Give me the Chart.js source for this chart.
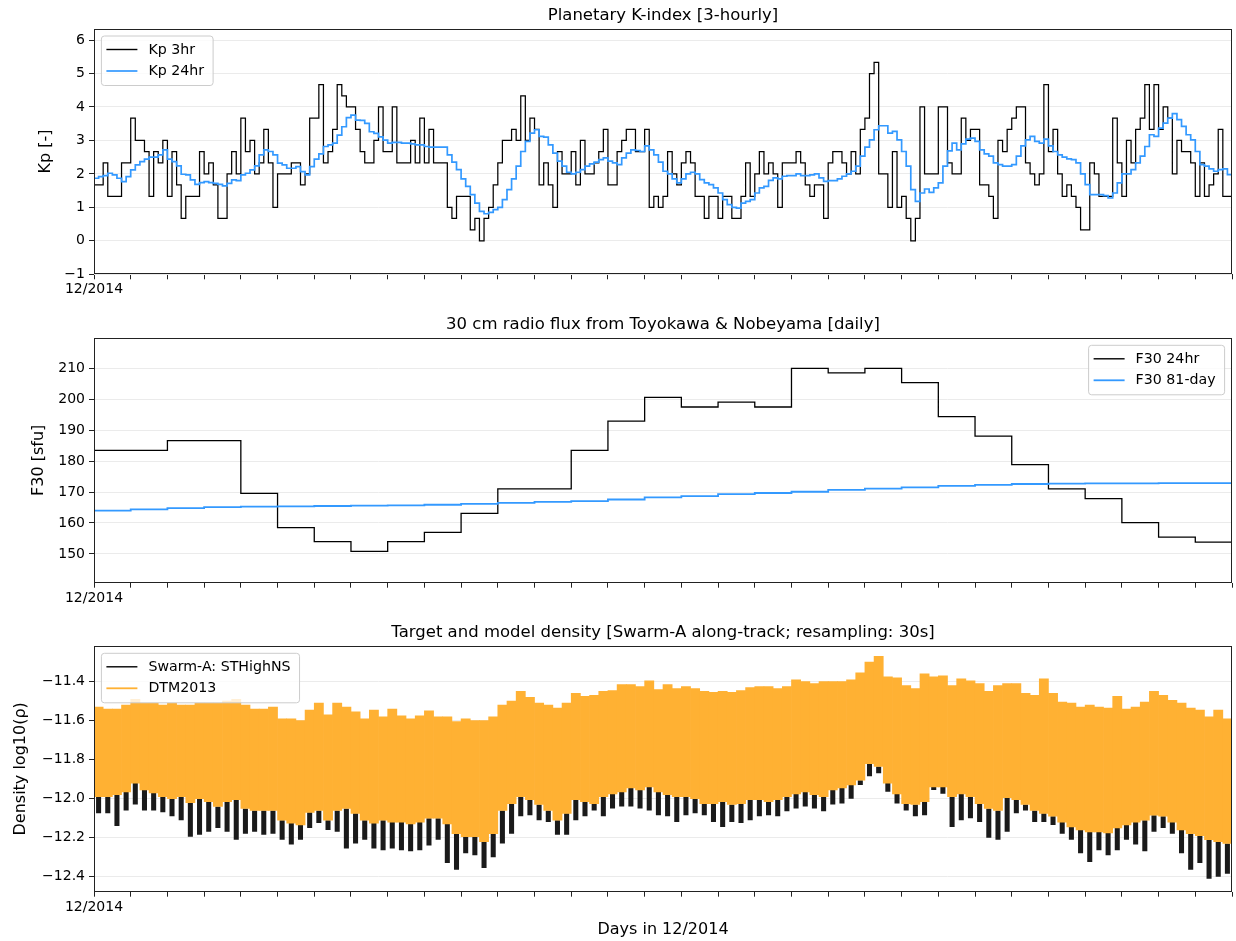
<!DOCTYPE html>
<html>
<head>
<meta charset="utf-8">
<title>Kp, F30 and thermosphere density – December 2014</title>
<script src="https://cdn.jsdelivr.net/npm/chart.js@4.4.1/dist/chart.umd.min.js"></script>
<style>
  html, body { margin: 0; padding: 0; background: #ffffff; }
  #page { position: relative; width: 1236px; height: 941px; overflow: hidden; }
  .panel { position: absolute; left: 0; width: 1236px; }
</style>
</head>
<body>
<div id="page">
  <div class="panel" style="top:0px;height:300px"><canvas id="kpChart"></canvas></div>
  <div class="panel" style="top:310px;height:300px"><canvas id="f30Chart"></canvas></div>
  <div class="panel" style="top:618px;height:323px"><canvas id="densChart"></canvas></div>
</div>
<script>
// ---------------------------------------------------------------------------
// Data: December 2014 (x axis in days since 2014-12-01 00:00 UT)
// ---------------------------------------------------------------------------
const monthLabel = '12/2014';
const dayTicks = [0,1,2,3,4,5,6,7,8,9,10,11,12,13,14,15,16,17,18,19,20,21,22,23,24,25,26,27,28,29,30,31];

// Kp, one value per 3-hour interval (8 per day)
const kp3hr = [
  1.67,1.67,2.33,1.33,1.33,1.33,2.33,2.33,
  3.67,3.00,3.00,2.67,1.33,2.67,2.33,3.00,
  1.33,2.67,1.67,0.67,1.33,1.33,1.33,2.67,
  2.00,2.33,1.67,0.67,0.67,2.00,2.67,2.00,
  3.67,2.67,3.00,2.00,2.33,3.33,2.33,1.00,
  2.00,2.00,2.00,2.33,2.33,1.67,2.00,3.67,
  3.67,4.67,2.33,2.67,3.33,4.67,4.33,4.00,
  4.00,3.33,2.67,2.33,2.33,3.00,4.00,2.67,
  2.67,4.00,2.33,2.33,2.33,3.00,2.33,3.67,
  2.33,3.33,2.33,2.33,2.33,1.00,0.67,1.33,
  1.33,1.33,0.33,0.67,0.00,0.67,1.00,1.67,
  2.33,3.00,3.00,3.33,3.00,4.33,3.00,3.67,
  3.33,1.67,2.33,1.67,1.00,2.67,2.00,2.00,
  2.67,1.67,3.00,2.00,2.00,2.33,2.67,3.33,
  1.67,1.67,2.67,3.00,3.33,3.33,2.67,2.67,
  3.33,1.00,1.33,1.00,1.33,2.67,2.00,1.67,
  2.33,2.67,2.33,1.33,1.33,0.67,1.33,1.33,
  0.67,1.33,1.33,0.67,0.67,1.33,2.33,1.33,
  2.00,2.67,2.00,2.33,2.00,1.00,2.33,2.33,
  2.33,2.67,2.33,1.67,1.33,1.67,1.67,0.67,
  2.33,2.67,2.67,2.33,2.00,2.67,2.00,3.33,
  3.67,5.00,5.33,2.00,2.00,1.00,2.67,1.00,
  1.33,0.67,0.00,0.67,4.00,2.00,2.00,2.00,
  4.00,4.00,2.33,2.00,2.00,3.67,3.00,3.33,
  3.33,1.67,1.67,1.33,0.67,3.00,2.67,3.33,
  3.67,4.00,4.00,2.33,2.00,1.67,2.00,4.67,
  2.67,3.33,2.00,1.33,1.67,1.33,1.00,0.33,
  0.33,2.33,2.00,1.33,1.33,1.33,3.67,2.33,
  1.33,3.00,2.33,3.33,3.67,4.67,3.33,4.67,
  3.33,4.00,3.67,2.00,3.00,2.67,2.67,2.33,
  1.33,2.33,1.33,1.67,2.00,3.33,1.33,1.33
];

// Kp averaged over 24 hours, on the same 3-hour steps
const kp24hr = [
  1.87,1.92,1.95,2.02,1.97,1.87,1.77,1.92,
  2.12,2.27,2.37,2.44,2.50,2.50,2.57,2.72,
  2.44,2.37,2.24,1.99,1.97,1.82,1.69,1.74,
  1.77,1.74,1.72,1.69,1.64,1.72,1.82,1.80,
  1.97,2.02,2.12,2.24,2.57,2.72,2.67,2.57,
  2.32,2.27,2.17,2.17,2.22,2.07,1.97,2.22,
  2.44,2.60,2.82,2.87,2.92,3.16,3.41,3.68,
  3.76,3.61,3.60,3.51,3.26,3.21,3.11,3.01,
  2.92,2.94,2.94,2.92,2.92,2.90,2.87,2.87,
  2.82,2.80,2.80,2.80,2.80,2.57,2.35,2.13,
  1.85,1.63,1.38,1.13,0.88,0.81,0.85,0.93,
  1.00,1.23,1.53,1.85,2.23,2.67,2.97,3.22,
  3.32,3.12,3.10,2.87,2.62,2.38,2.23,2.05,
  2.00,2.05,2.13,2.23,2.30,2.35,2.43,2.48,
  2.38,2.33,2.28,2.48,2.62,2.72,2.70,2.67,
  2.84,2.72,2.57,2.35,2.08,2.00,1.85,1.73,
  1.85,2.00,2.05,2.00,1.83,1.73,1.68,1.58,
  1.43,1.23,1.08,1.00,0.98,1.13,1.18,1.23,
  1.43,1.58,1.63,1.81,1.88,1.85,1.93,1.95,
  1.95,2.00,1.95,1.95,1.97,2.00,1.88,1.78,
  1.80,1.80,1.85,1.93,2.00,2.08,2.23,2.53,
  2.80,3.02,3.32,3.44,3.44,3.22,3.27,3.02,
  2.67,2.23,1.53,1.18,1.43,1.55,1.45,1.58,
  1.73,2.23,2.69,2.92,2.72,2.90,3.04,3.07,
  2.97,2.72,2.60,2.53,2.33,2.28,2.23,2.23,
  2.28,2.53,2.84,3.02,3.12,2.97,2.92,3.04,
  2.84,2.67,2.57,2.50,2.45,2.43,2.33,2.00,
  1.68,1.38,1.38,1.38,1.35,1.28,1.43,1.73,
  2.00,2.00,2.13,2.33,2.53,2.82,3.17,3.12,
  3.37,3.52,3.67,3.80,3.62,3.42,3.17,3.02,
  2.67,2.28,2.23,2.15,2.08,2.13,2.15,1.98
];

// 30 cm solar radio flux (sfu), one value per day
const f30Daily = [
  183.5,183.5,186.6,186.6,169.6,158.5,154.0,150.8,154.0,157.0,
  163.1,171.0,171.0,183.5,192.9,200.6,197.5,199.1,197.5,210.0,
  208.5,210.0,205.4,194.4,188.1,178.9,171.0,167.9,160.1,155.4,
  153.8
];
const f30Avg81 = [
  164.0,164.4,164.8,165.1,165.3,165.4,165.5,165.6,165.7,165.9,
  166.2,166.5,166.8,167.1,167.6,168.3,168.7,169.3,169.7,170.1,
  170.7,171.1,171.5,172.0,172.3,172.6,172.7,172.8,172.8,172.9,
  172.9
];

// log10 density, range per 6-hour window (4 windows per day)
const dtmMax = [
  -11.53,-11.54,-11.54,-11.52,  -11.49,-11.51,-11.51,-11.52,  -11.51,-11.52,-11.52,-11.51,
  -11.51,-11.51,-11.50,-11.49,  -11.52,-11.54,-11.54,-11.53,  -11.59,-11.59,-11.60,-11.545,
  -11.51,-11.57,-11.51,-11.53,  -11.555,-11.59,-11.545,-11.58, -11.54,-11.575,-11.59,-11.575,
  -11.55,-11.58,-11.58,-11.605, -11.59,-11.60,-11.60,-11.58,  -11.52,-11.50,-11.45,-11.48,
  -11.51,-11.52,-11.535,-11.51, -11.46,-11.475,-11.47,-11.45, -11.445,-11.415,-11.415,-11.425,
  -11.395,-11.44,-11.415,-11.435, -11.425,-11.435,-11.45,-11.455, -11.45,-11.455,-11.445,-11.43,
  -11.425,-11.425,-11.435,-11.425, -11.39,-11.40,-11.41,-11.40, -11.40,-11.40,-11.39,-11.355,
  -11.30,-11.27,-11.375,-11.38, -11.42,-11.435,-11.36,-11.375, -11.37,-11.42,-11.385,-11.395,
  -11.41,-11.45,-11.42,-11.41,  -11.41,-11.46,-11.47,-11.385, -11.46,-11.505,-11.51,-11.53,
  -11.52,-11.53,-11.535,-11.475, -11.54,-11.53,-11.505,-11.45, -11.47,-11.495,-11.51,-11.535,
  -11.545,-11.58,-11.545,-11.59
];
const dtmMin = [
  -11.99,-11.99,-11.98,-11.965, -11.92,-11.955,-11.97,-11.99, -12.00,-11.99,-12.02,-12.00,
  -12.015,-12.04,-12.015,-12.005, -12.05,-12.06,-12.06,-12.06, -12.11,-12.125,-12.135,-12.07,
  -12.06,-12.11,-12.06,-12.05,  -12.075,-12.11,-12.125,-12.11, -12.12,-12.12,-12.13,-12.12,
  -12.10,-12.10,-12.13,-12.18,  -12.195,-12.195,-12.22,-12.18, -12.06,-12.025,-11.99,-12.005,
  -12.03,-12.06,-12.11,-12.075, -12.005,-12.015,-12.025,-11.99, -11.975,-11.965,-11.945,-11.955,
  -11.94,-11.965,-11.98,-11.99, -11.99,-12.00,-12.025,-12.025, -12.015,-12.03,-12.025,-12.005,
  -12.005,-12.015,-12.005,-11.99, -11.975,-11.965,-11.98,-11.99, -11.955,-11.945,-11.93,-11.905,
  -11.82,-11.835,-11.92,-11.975, -12.025,-12.03,-12.015,-11.94, -11.94,-11.99,-11.975,-11.99,
  -12.025,-12.05,-12.06,-11.995, -12.005,-12.03,-12.06,-12.075, -12.09,-12.12,-12.145,-12.16,
  -12.17,-12.17,-12.175,-12.15, -12.135,-12.12,-12.11,-12.085, -12.09,-12.12,-12.16,-12.18,
  -12.19,-12.21,-12.22,-12.23
];
const swarmMin = [
  -12.075,-12.075,-12.14,-12.06, -12.03,-12.06,-12.06,-12.07, -12.09,-12.11,-12.195,-12.185,
  -12.17,-12.15,-12.17,-12.21,  -12.18,-12.17,-12.185,-12.18, -12.21,-12.235,-12.21,-12.15,
  -12.125,-12.16,-12.17,-12.255, -12.23,-12.21,-12.255,-12.265, -12.255,-12.265,-12.27,-12.265,
  -12.24,-12.21,-12.33,-12.365, -12.28,-12.29,-12.355,-12.30, -12.23,-12.18,-12.09,-12.085,
  -12.11,-12.12,-12.185,-12.185, -12.11,-12.09,-12.06,-12.09, -12.05,-12.04,-12.04,-12.05,
  -12.06,-12.085,-12.09,-12.12, -12.085,-12.075,-12.085,-12.12, -12.145,-12.12,-12.125,-12.11,
  -12.09,-12.085,-12.09,-12.065, -12.05,-12.04,-12.05,-12.065, -12.03,-12.025,-12.00,-11.93,
  -11.885,-11.87,-11.965,-12.025, -12.06,-12.09,-12.085,-11.955, -11.975,-12.145,-12.11,-12.10,
  -12.12,-12.20,-12.21,-12.17,  -12.075,-12.06,-12.12,-12.12, -12.135,-12.18,-12.21,-12.28,
  -12.325,-12.265,-12.29,-12.265, -12.21,-12.235,-12.27,-12.17, -12.15,-12.18,-12.28,-12.365,
  -12.33,-12.41,-12.40,-12.385
];

const kpTicks = [-1, 0, 1, 2, 3, 4, 5, 6];
const f30Ticks = [150, 160, 170, 180, 190, 200, 210];
const densTicks = [-12.4, -12.2, -12.0, -11.8, -11.6, -11.4];

// ---------------------------------------------------------------------------
// Styling
// ---------------------------------------------------------------------------
const FONT = '"DejaVu Sans", "Liberation Sans", Arial, sans-serif';
const BLUE = '#3399ff';
const ORANGE = '#ffb133';
const INK = '#000000';
const GRID = '#ebebeb';
const SPINE = '#222222';

Chart.defaults.font.family = FONT;
Chart.defaults.color = INK;

const KP_STEP = 1 / 8;     // 3 hours in days
const DAY_STEP = 1;        // daily values
const WINDOW = 1 / 4;      // 6-hour density windows

// Step-post samples: each value holds until the next one starts
function toSteps(values, dt) {
  const pts = values.map((v, i) => ({ x: i * dt, y: v }));
  pts.push({ x: values.length * dt, y: values[values.length - 1] });
  return pts;
}

function minusSign(text) { return text.replace('-', '\u2212'); }

// Axes box, panel title and framed legend drawn on top of the plot
const panelDecor = {
  id: 'panelDecor',
  afterDraw(chart, args, opts) {
    const { ctx, chartArea: a } = chart;
    ctx.save();
    const L = Math.round(a.left) + 0.5, T = Math.round(a.top) + 0.5;
    const R = Math.round(a.right) - 0.5, B = Math.round(a.bottom) - 0.5;
    ctx.strokeStyle = SPINE;
    ctx.lineWidth = 1;
    ctx.strokeRect(L, T, R - L, B - T);

    ctx.fillStyle = INK;
    ctx.font = '16.5px ' + FONT;
    ctx.textAlign = 'center';
    ctx.textBaseline = 'alphabetic';
    ctx.fillText(opts.title, (a.left + a.right) / 2, a.top - 9);

    const items = chart.data.datasets.map(d => ({
      label: d.label, color: d.legendColor || d.borderColor, lw: d.legendWidth || d.borderWidth || 1.5
    }));
    ctx.font = '14.2px ' + FONT;
    const tw = Math.max(...items.map(it => ctx.measureText(it.label).width));
    const w = 47 + tw + 9;
    const h = 13.5 + 21.5 * (items.length - 1) + 14.5;
    const x0 = opts.legendSide === 'right' ? a.right - 7.4 - w : a.left + 7.4;
    const y0 = a.top + 7.3;
    const r = 3;
    ctx.beginPath();
    ctx.moveTo(x0 + r, y0);
    ctx.lineTo(x0 + w - r, y0);
    ctx.arcTo(x0 + w, y0, x0 + w, y0 + r, r);
    ctx.lineTo(x0 + w, y0 + h - r);
    ctx.arcTo(x0 + w, y0 + h, x0 + w - r, y0 + h, r);
    ctx.lineTo(x0 + r, y0 + h);
    ctx.arcTo(x0, y0 + h, x0, y0 + h - r, r);
    ctx.lineTo(x0, y0 + r);
    ctx.arcTo(x0, y0, x0 + r, y0, r);
    ctx.closePath();
    ctx.fillStyle = 'rgba(255,255,255,0.8)';
    ctx.fill();
    ctx.strokeStyle = '#cccccc';
    ctx.lineWidth = 1;
    ctx.stroke();

    items.forEach((it, k) => {
      const y = y0 + 13.5 + 21.5 * k;
      ctx.beginPath();
      ctx.strokeStyle = it.color;
      ctx.lineWidth = it.lw;
      ctx.moveTo(x0 + 5, y);
      ctx.lineTo(x0 + 36, y);
      ctx.stroke();
      ctx.fillStyle = INK;
      ctx.textAlign = 'left';
      ctx.textBaseline = 'middle';
      ctx.fillText(it.label, x0 + 47, y + 0.5);
    });
    ctx.restore();
  }
};

function xAxis(height, title) {
  return {
    type: 'linear', min: 0, max: 31, offset: false,
    afterBuildTicks: s => { s.ticks = dayTicks.map(v => ({ value: v })); },
    ticks: {
      autoSkip: false, maxRotation: 0, minRotation: 0, padding: 2,
      font: { size: 14 }, color: INK,
      callback: v => (v === 0 ? monthLabel : '')
    },
    grid: { offset: false, drawOnChartArea: false, drawTicks: true, tickLength: 5, tickColor: SPINE },
    border: { display: false },
    title: title ? { display: true, text: title, font: { size: 16 }, color: INK, padding: { top: 0, bottom: 2 } } : { display: false },
    afterFit: s => { s.height = height; }
  };
}

function yAxis(min, max, ticks, fmt, label, labelPad) {
  return {
    type: 'linear', min, max,
    afterBuildTicks: s => { s.ticks = ticks.map(v => ({ value: v })); },
    ticks: { font: { size: 14 }, color: INK, padding: 4, callback: v => fmt(v) },
    grid: { color: GRID, lineWidth: 1, drawTicks: true, tickLength: 5, tickColor: SPINE },
    border: { display: false },
    title: { display: true, text: label, font: { size: 16 }, color: INK, padding: { top: labelPad, bottom: 0 } },
    afterFit: s => { s.width = 94; }
  };
}

function baseOptions(padTop, scales, decor) {
  return {
    responsive: true, maintainAspectRatio: false, animation: false, events: [],
    layout: { padding: { top: padTop, left: 0, right: 4, bottom: 0 } },
    scales,
    plugins: { legend: { display: false }, tooltip: { enabled: false }, panelDecor: decor }
  };
}

// ---------------------------------------------------------------------------
// Panel 1: Kp
// ---------------------------------------------------------------------------
new Chart(document.getElementById('kpChart'), {
  type: 'line',
  data: {
    datasets: [
      { label: 'Kp 3hr', data: toSteps(kp3hr, KP_STEP), borderColor: INK, borderWidth: 1.25,
        stepped: 'before', pointRadius: 0, fill: false, order: 2, legendWidth: 1.4 },
      { label: 'Kp 24hr', data: toSteps(kp24hr, KP_STEP), borderColor: BLUE, borderWidth: 1.7,
        stepped: 'before', pointRadius: 0, fill: false, order: 1 }
    ]
  },
  options: baseOptions(28.7, {
    x: xAxis(25.7),
    y: yAxis(-1, 6.34, kpTicks, v => minusSign(String(v)), 'Kp [-]', 36)
  }, { title: 'Planetary K-index [3-hourly]', legendSide: 'left' }),
  plugins: [panelDecor]
});

// ---------------------------------------------------------------------------
// Panel 2: F30 radio flux
// ---------------------------------------------------------------------------
new Chart(document.getElementById('f30Chart'), {
  type: 'line',
  data: {
    datasets: [
      { label: 'F30 24hr', data: toSteps(f30Daily, DAY_STEP), borderColor: INK, borderWidth: 1.3,
        stepped: 'before', pointRadius: 0, fill: false, order: 2, legendWidth: 1.4 },
      { label: 'F30 81-day', data: toSteps(f30Avg81, DAY_STEP), borderColor: BLUE, borderWidth: 1.8,
        stepped: 'before', pointRadius: 0, fill: false, order: 1 }
    ]
  },
  options: baseOptions(28, {
    x: xAxis(27.3),
    y: yAxis(140.7, 219.8, f30Ticks, v => String(v), 'F30 [sfu]', 29)
  }, { title: '30 cm radio flux from Toyokawa & Nobeyama [daily]', legendSide: 'right' }),
  plugins: [panelDecor]
});

// ---------------------------------------------------------------------------
// Panel 3: along-track density, observed and modelled
// ---------------------------------------------------------------------------
const windowCentre = i => (i + 0.5) * WINDOW;
new Chart(document.getElementById('densChart'), {
  type: 'bar',
  data: {
    datasets: [
      { label: 'Swarm-A: STHighNS',
        data: swarmMin.map((lo, i) => ({ x: windowCentre(i), y: [lo, dtmMin[i]] })),
        backgroundColor: '#1a1a1a', borderWidth: 0, barPercentage: 0.55, categoryPercentage: 1,
        grouped: false, order: 2, legendColor: INK, legendWidth: 1.4 },
      { label: 'DTM2013',
        data: dtmMax.map((hi, i) => ({ x: windowCentre(i), y: [dtmMin[i], hi] })),
        backgroundColor: ORANGE, borderWidth: 0, barPercentage: 1, categoryPercentage: 1,
        grouped: false, order: 1, legendColor: ORANGE, legendWidth: 1.8 }
    ]
  },
  options: baseOptions(28, {
    x: xAxis(49.3, 'Days in 12/2014'),
    y: yAxis(-12.477, -11.217, densTicks, v => minusSign(v.toFixed(1)), 'Density log10(\u03c1)', 11)
  }, { title: 'Target and model density [Swarm-A along-track; resampling: 30s]', legendSide: 'left' }),
  plugins: [panelDecor]
});
</script>
</body>
</html>
